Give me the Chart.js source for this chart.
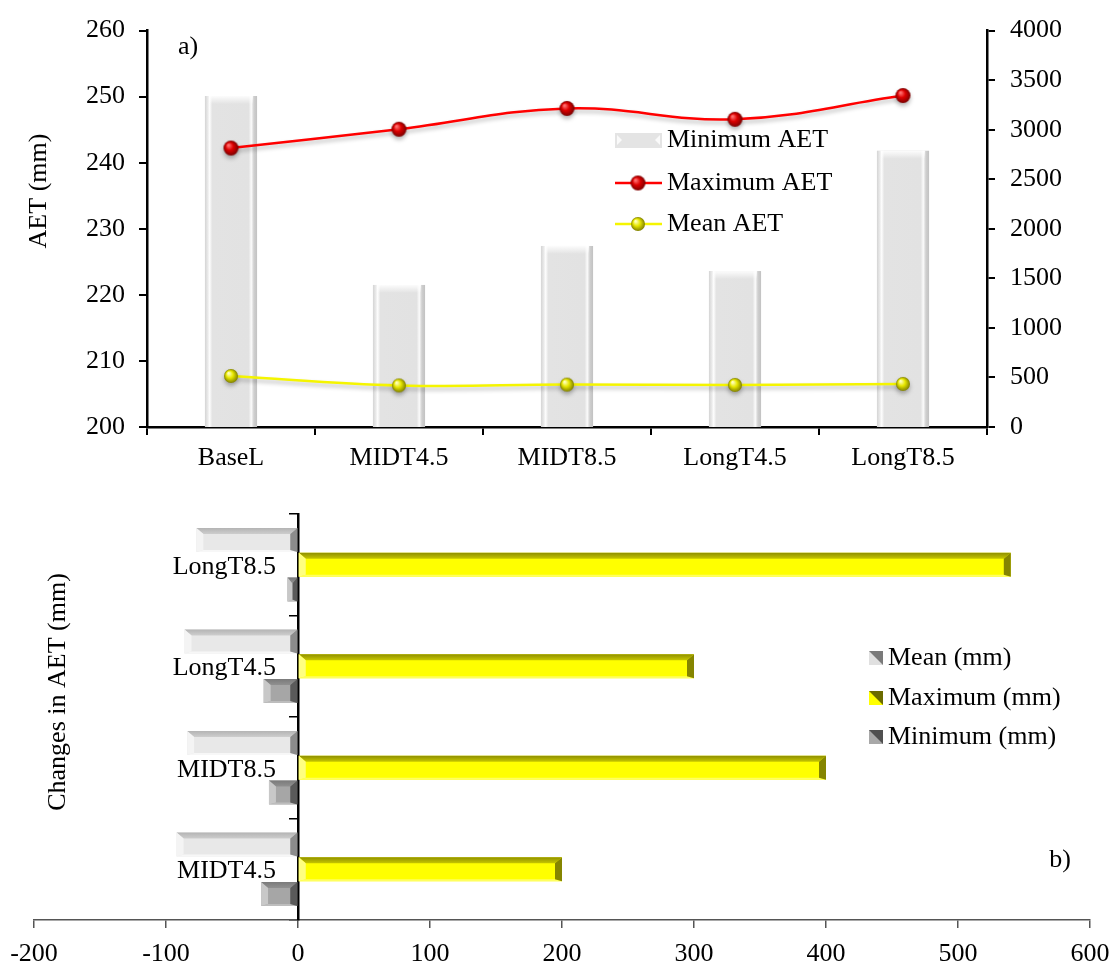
<!DOCTYPE html>
<html>
<head>
<meta charset="utf-8">
<script src="https://cdn.jsdelivr.net/npm/chart.js@4.4.1/dist/chart.umd.min.js"></script>
<style>
  html, body { margin: 0; padding: 0; background: #fff; }
  #wrap { position: relative; width: 1111px; height: 962px; }
  #chartA { position: absolute; left: 0; top: 0; }
  #chartB { position: absolute; left: 0; top: 480px; }
</style>
</head>
<body>
<div id="wrap">
  <canvas id="chartA" width="1111" height="470"></canvas>
  <canvas id="chartB" width="1111" height="482"></canvas>
</div>
<script>
// ---- panel a) AET per period ----
const periods = ['BaseL', 'MIDT4.5', 'MIDT8.5', 'LongT4.5', 'LongT8.5'];
const minAET = [250.1, 221.5, 227.4, 223.6, 241.8];   // bars, left axis
const maxAET = [2815, 3005, 3215, 3105, 3345];        // red line, right axis
const meanAET = [515, 420, 428, 425, 435];            // yellow line, right axis

// ---- panel b) changes in AET (listed top to bottom) ----
const scenarios = ['LongT8.5', 'LongT4.5', 'MIDT8.5', 'MIDT4.5'];
const meanChange = [-77, -86, -84, -92];
const maxChange = [540, 300, 400, 200];
const minChange = [-8, -26, -22, -28];

const SERIF = "'Liberation Serif', 'Times New Roman', serif";
const FONT_SIZE = 26;
Chart.defaults.font.family = SERIF;
Chart.defaults.font.size = FONT_SIZE;
Chart.defaults.color = '#000';

// little shaded ball used as point style
function ball(r, hi, mid, lo) {
    const c = document.createElement('canvas');
    c.width = c.height = Math.ceil(r * 2 + 2);
    const g = c.getContext('2d');
    const m = c.width / 2;
    const grad = g.createRadialGradient(m - r * 0.35, m - r * 0.4, r * 0.1, m, m, r);
    grad.addColorStop(0, hi);
    grad.addColorStop(0.45, mid);
    grad.addColorStop(1, lo);
    g.fillStyle = grad;
    g.beginPath();
    g.arc(m, m, r, 0, Math.PI * 2);
    g.fill();
    return c;
}
const redBall = ball(7.5, '#ff7070', '#dd0000', '#7a0000');
const yellowBall = ball(7, '#ffffb8', '#e6e600', '#808000');

// free text (panel letters, axis titles)
function textItems(items) {
    return {
        id: 'textItems',
        afterDraw(chart) {
            const ctx = chart.ctx;
            items.forEach(t => {
                ctx.save();
                ctx.font = FONT_SIZE + 'px ' + SERIF;
                ctx.fillStyle = '#000';
                ctx.textAlign = t.align || 'center';
                ctx.textBaseline = 'middle';
                ctx.translate(t.x, t.y);
                if (t.rot) ctx.rotate(t.rot);
                ctx.fillText(t.text, 0, 0);
                ctx.restore();
            });
        }
    };
}

// soft shadow under the lines
const lineShadow = {
    id: 'lineShadow',
    beforeDatasetDraw(chart, args) {
        if (args.meta.type !== 'line') return;
        chart.ctx.save();
        chart.ctx.shadowColor = 'rgba(0,0,0,0.28)';
        chart.ctx.shadowBlur = 4;
        chart.ctx.shadowOffsetY = 3;
    },
    afterDatasetDraw(chart, args) {
        if (args.meta.type !== 'line') return;
        chart.ctx.restore();
    }
};

// bevelled look of the grey columns
const columnBevel = {
    id: 'columnBevel',
    afterDatasetDraw(chart, args) {
        if (args.meta.type !== 'bar') return;
        const ctx = chart.ctx;
        const bottom = chart.chartArea.bottom;
        args.meta.data.forEach(bar => {
            const {x, y, width} = bar.getProps(['x', 'y', 'width'], true);
            const l = x - width / 2;
            const grad = ctx.createLinearGradient(l, 0, l + width, 0);
            grad.addColorStop(0, '#d4d4d4');
            grad.addColorStop(0.05, '#e8e8e8');
            grad.addColorStop(0.09, '#fdfdfd');
            grad.addColorStop(0.14, '#e3e3e3');
            grad.addColorStop(0.84, '#e2e2e2');
            grad.addColorStop(0.89, '#fbfbfb');
            grad.addColorStop(0.94, '#cfcfcf');
            grad.addColorStop(1, '#c2c2c2');
            ctx.save();
            ctx.fillStyle = grad;
            ctx.fillRect(l, y, width, bottom - y);
            const top = ctx.createLinearGradient(0, y, 0, y + 8);
            top.addColorStop(0, 'rgba(255,255,255,0.9)');
            top.addColorStop(1, 'rgba(255,255,255,0)');
            ctx.fillStyle = top;
            ctx.fillRect(l + 4, y, width - 8, 8);
            ctx.restore();
        });
    }
};

const legendA = {
    id: 'legendA',
    afterDraw(chart) {
        const ctx = chart.ctx;
        const x0 = 615, x1 = 662, tx = 667;
        const rows = [140, 183, 224];
        ctx.save();
        // Minimum AET swatch
        ctx.fillStyle = '#e4e4e4';
        ctx.fillRect(x0, rows[0] - 7, x1 - x0, 15);
        ctx.fillStyle = '#fafafa';
        ctx.beginPath();
        ctx.moveTo(x0 + 2, rows[0] - 5); ctx.lineTo(x0 + 7, rows[0]); ctx.lineTo(x0 + 2, rows[0] + 5); ctx.fill();
        ctx.beginPath();
        ctx.moveTo(x1 - 2, rows[0] - 5); ctx.lineTo(x1 - 7, rows[0]); ctx.lineTo(x1 - 2, rows[0] + 5); ctx.fill();
        // line swatches
        [[rows[1], '#ff0000', redBall], [rows[2], '#f5f500', yellowBall]].forEach(([ry, col, img]) => {
            ctx.strokeStyle = col;
            ctx.lineWidth = 2.5;
            ctx.beginPath(); ctx.moveTo(x0, ry); ctx.lineTo(x1, ry); ctx.stroke();
            ctx.drawImage(img, 638 - img.width / 2, ry - img.height / 2);
        });
        ctx.font = FONT_SIZE + 'px ' + SERIF;
        ctx.fillStyle = '#000';
        ctx.textBaseline = 'middle';
        ['Minimum AET', 'Maximum AET', 'Mean AET'].forEach((t, i) => ctx.fillText(t, tx, rows[i]));
        ctx.restore();
    }
};

new Chart(document.getElementById('chartA'), {
    data: {
        labels: periods,
        datasets: [
            {
                type: 'bar',
                label: 'Minimum AET',
                data: minAET,
                yAxisID: 'y',
                backgroundColor: '#e3e3e3',
                categoryPercentage: 0.31,
                barPercentage: 1,
                order: 3
            },
            {
                type: 'line',
                label: 'Maximum AET',
                data: maxAET,
                yAxisID: 'y1',
                borderColor: '#ff0000',
                borderWidth: 2.5,
                tension: 0.4,
                pointStyle: redBall,
                order: 2
            },
            {
                type: 'line',
                label: 'Mean AET',
                data: meanAET,
                yAxisID: 'y1',
                borderColor: '#f5f500',
                borderWidth: 2.5,
                tension: 0.4,
                pointStyle: yellowBall,
                order: 1
            }
        ]
    },
    options: {
        responsive: false,
        animation: false,
        layout: { padding: { left: 20, right: 0, top: 25, bottom: 0 } },
        plugins: { legend: { display: false }, tooltip: { enabled: false } },
        scales: {
            x: {
                offset: true,
                grid: { offset: true, drawOnChartArea: false, color: '#000', lineWidth: 2, tickLength: 8 },
                border: { color: '#000', width: 2.5 },
                ticks: { padding: 8 },
                afterFit: s => { s.height = 43; }
            },
            y: {
                position: 'left',
                min: 200, max: 260,
                ticks: { stepSize: 10, padding: 14 },
                grid: { drawOnChartArea: false, color: '#000', lineWidth: 2, tickLength: 8 },
                border: { color: '#000', width: 2.5 },
                afterFit: s => { s.width = 127; }
            },
            y1: {
                position: 'right',
                min: 0, max: 4000,
                ticks: { stepSize: 500, padding: 15, callback: v => String(v) },
                grid: { drawOnChartArea: false, color: '#000', lineWidth: 2, tickLength: 8 },
                border: { color: '#000', width: 2.5 },
                afterFit: s => { s.width = 124; }
            }
        }
    },
    plugins: [columnBevel, lineShadow, legendA, textItems([
        { text: 'a)', x: 188, y: 47 },
        { text: 'AET (mm)', x: 39, y: 191, rot: -Math.PI / 2 }
    ])]
});

// bevel frame for the horizontal bars of panel b)
const shades = [
    { top: '#b4b4b4', bot: '#f7f7f7', dark: '#8c8c8c', light: '#f4f4f4' },
    { top: '#8f8f00', bot: '#ffff60', dark: '#858500', light: '#ffff80' },
    { top: '#7a7a7a', bot: '#bdbdbd', dark: '#5a5a5a', light: '#c8c8c8' }
];
const barBevel = {
    id: 'barBevel',
    afterDatasetDraw(chart, args) {
        const ctx = chart.ctx;
        const s = shades[args.index];
        args.meta.data.forEach(bar => {
            const {x, y, base, height} = bar.getProps(['x', 'y', 'base', 'height'], true);
            const l = Math.min(x, base), r = Math.max(x, base);
            const t = y - height / 2, b = y + height / 2;
            const bv = Math.min(7, (r - l) / 2);
            const tb = 6;
            ctx.save();
            // top strip
            const g = ctx.createLinearGradient(0, t, 0, t + tb);
            g.addColorStop(0, s.top);
            g.addColorStop(1, s.top + '80');
            ctx.fillStyle = g;
            ctx.beginPath();
            ctx.moveTo(l, t); ctx.lineTo(r, t); ctx.lineTo(r - bv, t + tb); ctx.lineTo(l + bv, t + tb); ctx.closePath();
            ctx.fill();
            // bottom strip
            ctx.fillStyle = s.bot;
            ctx.beginPath();
            ctx.moveTo(l, b); ctx.lineTo(r, b); ctx.lineTo(r - bv, b - 2); ctx.lineTo(l + bv, b - 2); ctx.closePath();
            ctx.fill();
            // right end (dark)
            ctx.fillStyle = s.dark;
            ctx.beginPath();
            ctx.moveTo(r, t); ctx.lineTo(r, b); ctx.lineTo(r - bv, b - 2); ctx.lineTo(r - bv, t + tb); ctx.closePath();
            ctx.fill();
            // left end (light)
            ctx.fillStyle = s.light;
            ctx.beginPath();
            ctx.moveTo(l, t); ctx.lineTo(l, b); ctx.lineTo(l + bv, b - 2); ctx.lineTo(l + bv, t + tb); ctx.closePath();
            ctx.fill();
            ctx.restore();
        });
    }
};

// category names sit left of the zero line, clear of the tick marks
const categoryLabels = {
    id: 'categoryLabels',
    afterDraw(chart) {
        const ctx = chart.ctx;
        const yScale = chart.scales.y;
        const x = chart.scales.x.getPixelForValue(0) - 8 - 14;
        ctx.save();
        ctx.font = FONT_SIZE + 'px ' + SERIF;
        ctx.fillStyle = '#000';
        ctx.textAlign = 'right';
        ctx.textBaseline = 'middle';
        chart.data.labels.forEach((lab, i) => ctx.fillText(lab, x, yScale.getPixelForValue(i) + 2));
        ctx.restore();
    }
};

const legendB = {
    id: 'legendB',
    afterDraw(chart) {
        const ctx = chart.ctx;
        const rows = [178, 218, 257];
        const sw = [['#e0e0e0', '#7a7a7a'], ['#ffff00', '#6b6b00'], ['#a8a8a8', '#505050']];
        const names = chart.data.datasets.map(d => d.label);
        ctx.save();
        ctx.font = FONT_SIZE + 'px ' + SERIF;
        ctx.textBaseline = 'middle';
        rows.forEach((ry, i) => {
            const x = 869, y = ry - 7, w = 14;
            ctx.fillStyle = sw[i][0];
            ctx.fillRect(x, y, w, w);
            ctx.fillStyle = sw[i][1];
            ctx.beginPath();
            ctx.moveTo(x, y); ctx.lineTo(x + w, y); ctx.lineTo(x + w, y + w); ctx.closePath();
            ctx.fill();
            ctx.fillStyle = '#000';
            ctx.fillText(names[i], 888, ry);
        });
        ctx.restore();
    }
};

new Chart(document.getElementById('chartB'), {
    type: 'bar',
    data: {
        labels: scenarios,
        datasets: [
            { label: 'Mean (mm)', data: meanChange, backgroundColor: '#e8e8e8' },
            { label: 'Maximum (mm)', data: maxChange, backgroundColor: '#ffff00' },
            { label: 'Minimum (mm)', data: minChange, backgroundColor: '#a6a6a6' }
        ]
    },
    options: {
        indexAxis: 'y',
        responsive: false,
        animation: false,
        datasets: { bar: { categoryPercentage: 0.73, barPercentage: 0.97 } },
        layout: { padding: { left: 34, right: 21, top: 34, bottom: 0 } },
        plugins: { legend: { display: false }, tooltip: { enabled: false } },
        scales: {
            x: {
                type: 'linear',
                min: -200, max: 600,
                ticks: { stepSize: 100, padding: 11 },
                grid: { drawOnChartArea: false, color: '#555', lineWidth: 1.5, tickLength: 8 },
                border: { color: '#555', width: 1.5 },
                afterFit: s => { s.height = 42; s.paddingLeft = 0; s.paddingRight = 0; }
            },
            y: {
                position: { x: 0 },
                ticks: { display: false },
                grid: { offset: true, drawOnChartArea: false, color: '#000', lineWidth: 1.5, tickLength: 8 },
                border: { color: '#000', width: 2.5 },
                afterFit: s => { s.width = 0; }
            }
        }
    },
    plugins: [barBevel, categoryLabels, legendB, textItems([
        { text: 'b)', x: 1060, y: 380 },
        { text: 'Changes in AET (mm)', x: 58, y: 212, rot: -Math.PI / 2 }
    ])]
});
</script>
</body>
</html>
